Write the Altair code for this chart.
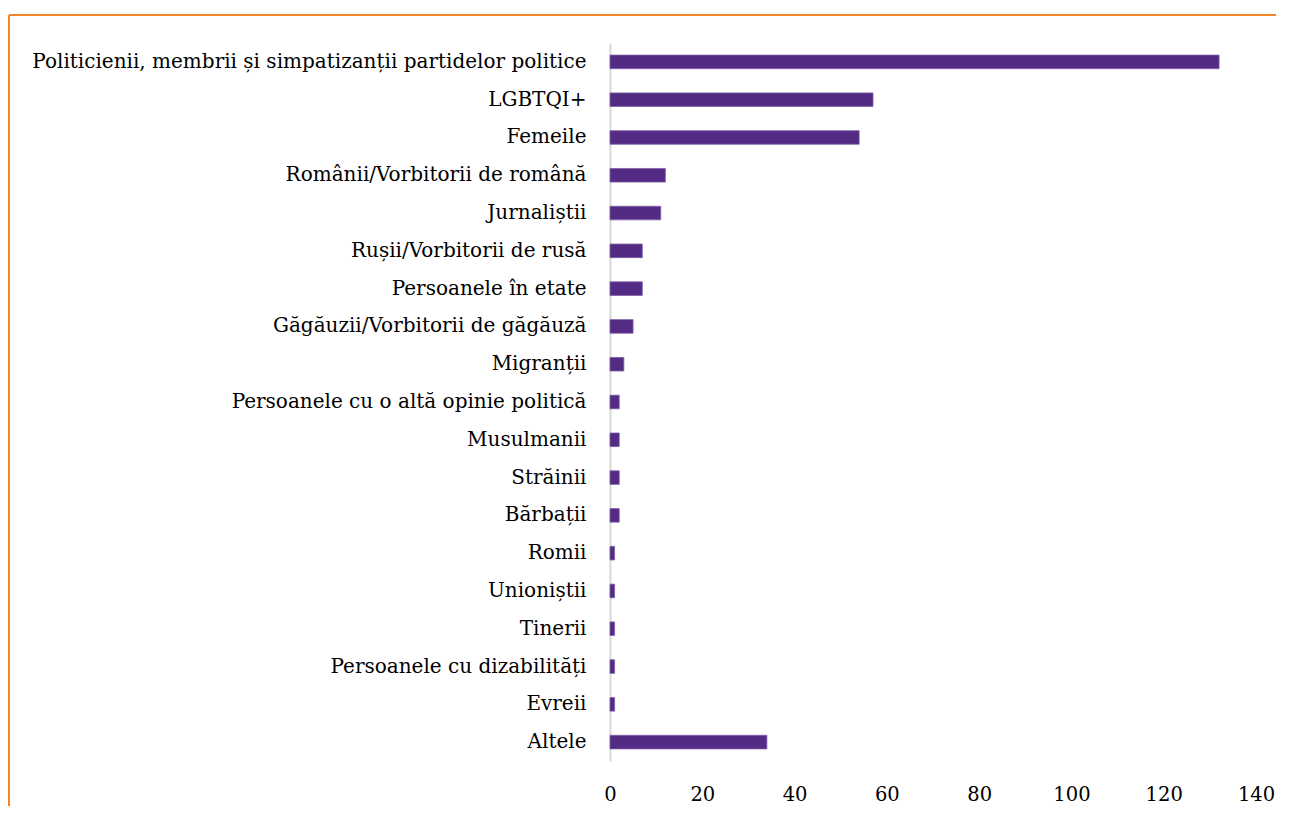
import altair as alt
import pandas as pd

categories = [
    "Politicienii, membrii și simpatizanții partidelor politice",
    "LGBTQI+",
    "Femeile",
    "Românii/Vorbitorii de română",
    "Jurnaliștii",
    "Rușii/Vorbitorii de rusă",
    "Persoanele în etate",
    "Găgăuzii/Vorbitorii de găgăuză",
    "Migranții",
    "Persoanele cu o altă opinie politică",
    "Musulmanii",
    "Străinii",
    "Bărbații",
    "Romii",
    "Unioniștii",
    "Tinerii",
    "Persoanele cu dizabilități",
    "Evreii",
    "Altele",
]
values = [132, 57, 54, 12, 11, 7, 7, 5, 3, 2, 2, 2, 2, 1, 1, 1, 1, 1, 34]
x_ticks = [0, 20, 40, 60, 80, 100, 120, 140]

df = pd.DataFrame({"cat": categories, "val": values})

FONT = "DejaVu Serif"

bars = alt.Chart(df).mark_bar(
    color="#542B84", stroke="#7E61A8", strokeWidth=0.8
).encode(
    y=alt.Y(
        "cat:N",
        sort=categories,
        title=None,
        scale=alt.Scale(paddingInner=0.64, paddingOuter=0.32),
        axis=alt.Axis(
            domain=True, domainColor="#d9d9d9", domainWidth=2,
            ticks=False, labelPadding=24, labelFontSize=20,
            labelFont=FONT, labelColor="#000000", labelLimit=700,
        ),
    ),
    x=alt.X(
        "val:Q",
        title=None,
        scale=alt.Scale(domain=[0, 140], nice=False),
        axis=alt.Axis(
            values=x_ticks, domain=False, ticks=False, grid=False,
            labelPadding=24, labelFontSize=19.5, labelFont=FONT,
            labelColor="#000000", labelFlush=False,
        ),
    ),
)

top_border = alt.Chart(df.head(1)).mark_rule(color="#F4862A", strokeWidth=2).encode(
    x=alt.value(-601), x2=alt.value(700), y=alt.value(-28)
)
left_border = alt.Chart(df.head(1)).mark_rule(color="#F4862A", strokeWidth=2).encode(
    x=alt.value(-601), y=alt.value(-28), y2=alt.value(780)
)

chart = alt.layer(bars, top_border, left_border).properties(
    width=646,
    height=718,
    padding={"left": 602, "top": 35, "right": 20, "bottom": 45},
    autosize=alt.AutoSizeParams(type="none"),
).configure_view(stroke=None)

chart.save("out.html", embed_options={"renderer": "svg", "actions": False})
